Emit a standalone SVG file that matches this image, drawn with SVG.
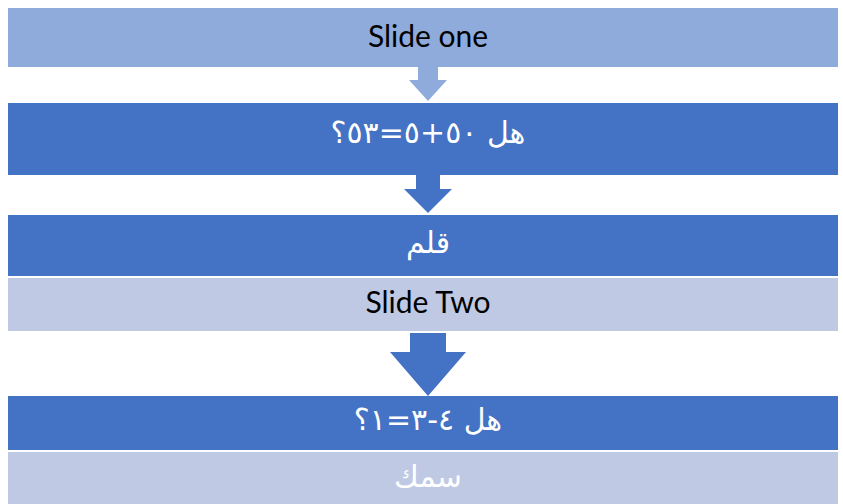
<svg xmlns="http://www.w3.org/2000/svg" width="843" height="504" viewBox="0 0 843 504">
<style>
.light{fill:#8eabdb}
.dark{fill:#4472c4}
.pale{fill:#bfc9e4}
.lat{font-family:Lato,"Liberation Sans",sans-serif;font-size:30px;fill:#000;text-anchor:middle;dominant-baseline:central}
.ar{font-family:"DejaVu Sans","Noto Sans",sans-serif;font-size:30px;fill:#fff;text-anchor:middle;dominant-baseline:central;direction:rtl;unicode-bidi:embed}
</style>
<rect width="843" height="504" fill="#fff"/>
<g id="connectors">
<polygon class="light" points="418,67 438,67 438,80 447,80 428,101 409,80 418,80"/>
<polygon class="dark" points="416,175 440,175 440,189 452,189 428,213 404,189 416,189"/>
<polygon class="dark" points="410,333 446,333 446,352 466,352 428,396 390,352 410,352"/>
</g>
<g id="n1"><rect class="light" x="8" y="8" width="830" height="59"/><text class="lat" x="428" y="35">Slide one</text></g>
<g id="n2"><rect class="dark" x="8" y="103" width="830" height="72"/><text class="ar" x="428" y="132">هل ٥٠+٥=٥٣؟</text></g>
<g id="n3"><rect class="dark" x="8" y="215" width="830" height="61"/><text class="ar" x="428" y="242">قلم</text></g>
<g id="n4"><rect class="pale" x="8" y="278" width="830" height="53"/><text class="lat" x="428" y="301">Slide Two</text></g>
<g id="n5"><rect class="dark" x="8" y="396" width="830" height="54"/><text class="ar" x="428" y="419">هل ٤-٣=١؟</text></g>
<g id="n6"><rect class="pale" x="8" y="452" width="830" height="52"/><text class="ar" x="428" y="476">سمك</text></g>
</svg>
